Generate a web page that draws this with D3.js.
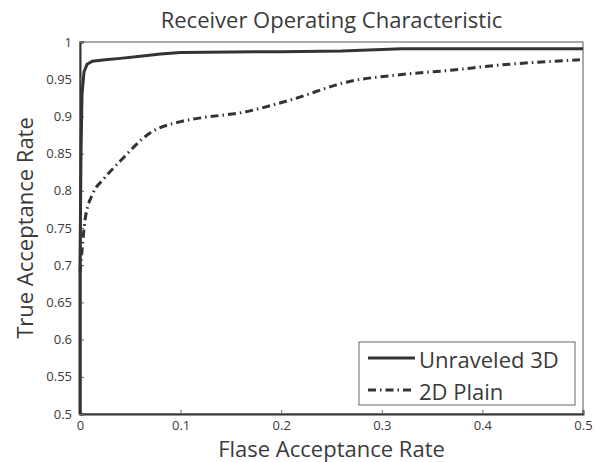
<!DOCTYPE html>
<html>
<head>
<meta charset="utf-8">
<script src="https://cdn.jsdelivr.net/npm/d3@7"></script>
<style>
  body { margin: 0; background: #fff; }
  text { font-family: "Open Sans", "Noto Sans", sans-serif; fill: #3a3a3a; }
</style>
</head>
<body>
<div id="chart"></div>
<script>
// ROC curves
const unraveledFAR = [0, 0, 0.001, 0.002, 0.004, 0.007, 0.012, 0.025, 0.04, 0.06, 0.08, 0.1, 0.2, 0.26, 0.32, 0.5]
const unraveledTAR = [0.5, 0.7, 0.85, 0.93, 0.96, 0.970, 0.974, 0.976, 0.978, 0.981, 0.984, 0.986, 0.987, 0.988, 0.991, 0.991]

const plainFAR = [0, 0.002, 0.005, 0.013, 0.023, 0.04, 0.07, 0.1, 0.12, 0.16, 0.209, 0.268, 0.318, 0.368, 0.417, 0.497]
const plainTAR = [0.69, 0.72, 0.761, 0.797, 0.815, 0.84, 0.878, 0.893, 0.898, 0.905, 0.922, 0.947, 0.956, 0.962, 0.969, 0.976]

const xTicks = [0, 0.1, 0.2, 0.3, 0.4, 0.5]
const yTicks = [0.5, 0.55, 0.6, 0.65, 0.7, 0.75, 0.8, 0.85, 0.9, 0.95, 1]
const seriesNames = ["Unraveled 3D", "2D Plain"]

const width = 598, height = 462
const margin = { top: 42, right: 15, bottom: 48, left: 80 }
const lineColor = "#333"

const svg = d3.select("#chart")
  .append("svg")
  .attr("width", width)
  .attr("height", height)

const x = d3.scaleLinear().domain([0, 0.5]).range([margin.left, width - margin.right])
const y = d3.scaleLinear().domain([0.5, 1]).range([height - margin.bottom, margin.top])

// box (thin top/right)
svg.append("rect")
  .attr("x", x(0)).attr("y", y(1))
  .attr("width", x(0.5) - x(0)).attr("height", y(0.5) - y(1))
  .attr("fill", "none")
  .attr("stroke", "#555")
  .attr("stroke-width", 1)

const xAxis = svg.append("g")
  .attr("transform", `translate(0,${y(0.5)})`)
  .call(d3.axisBottom(x).tickValues(xTicks).tickSize(-4).tickPadding(7).tickFormat(d3.format("")))
xAxis.select(".domain").attr("stroke", lineColor).attr("stroke-width", 2)
xAxis.selectAll(".tick line").attr("stroke", "#666")
xAxis.selectAll(".tick text").attr("font-size", 13).attr("fill", "#3a3a3a")

const yAxis = svg.append("g")
  .attr("transform", `translate(${x(0)},0)`)
  .call(d3.axisLeft(y).tickValues(yTicks).tickSize(-4).tickPadding(8).tickFormat(d3.format("")))
yAxis.select(".domain").attr("stroke", lineColor).attr("stroke-width", 2)
yAxis.selectAll(".tick line").attr("stroke", "#666")
yAxis.selectAll(".tick text").attr("font-size", 13).attr("fill", "#3a3a3a")

const line = d3.line()
  .x(d => x(d[0]))
  .y(d => y(d[1]))
  .curve(d3.curveMonotoneX)

const plain = d3.zip(plainFAR, plainTAR)
const unraveled = d3.zip(unraveledFAR, unraveledTAR)

svg.append("path")
  .attr("d", line(plain))
  .attr("fill", "none")
  .attr("stroke", lineColor)
  .attr("stroke-width", 3)
  .attr("stroke-dasharray", "8,4,1.5,4")

svg.append("path")
  .attr("d", d3.line().x(d => x(d[0])).y(d => y(d[1]))(unraveled))
  .attr("fill", "none")
  .attr("stroke", lineColor)
  .attr("stroke-width", 3)
  .attr("stroke-linejoin", "round")

// title and axis labels
svg.append("text")
  .attr("x", (x(0) + x(0.5)) / 2).attr("y", 28)
  .attr("text-anchor", "middle")
  .attr("font-size", 22)
  .text("Receiver Operating Characteristic")

svg.append("text")
  .attr("x", (x(0) + x(0.5)) / 2).attr("y", 457)
  .attr("text-anchor", "middle")
  .attr("font-size", 22)
  .text("Flase Acceptance Rate")

svg.append("text")
  .attr("transform", `translate(33,${(y(0.5) + y(1)) / 2}) rotate(-90)`)
  .attr("text-anchor", "middle")
  .attr("font-size", 22)
  .text("True Acceptance Rate")

// legend
const legend = svg.append("g").attr("transform", "translate(359,342)")
legend.append("rect")
  .attr("width", 216).attr("height", 63)
  .attr("fill", "#fff")
  .attr("stroke", "#666")
  .attr("stroke-width", 1)

const dashes = [null, "8,4,1.5,4"]
seriesNames.forEach((name, i) => {
  const ly = 16 + i * 32
  legend.append("line")
    .attr("x1", 9).attr("x2", 56)
    .attr("y1", ly).attr("y2", ly)
    .attr("stroke", lineColor)
    .attr("stroke-width", 3)
    .attr("stroke-dasharray", dashes[i])
  legend.append("text")
    .attr("x", 60).attr("y", ly + 10)
    .attr("font-size", 22)
    .text(name)
})
</script>
</body>
</html>
